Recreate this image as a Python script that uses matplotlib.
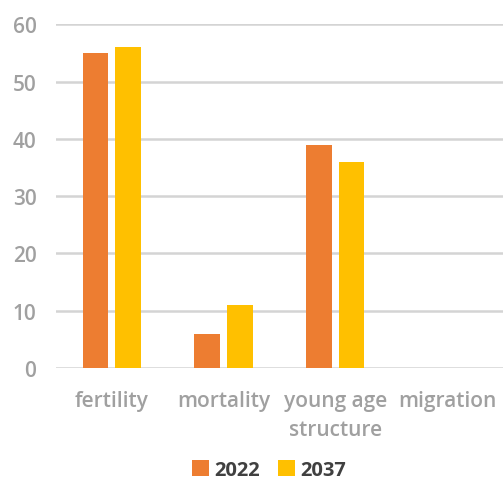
import numpy as np
import matplotlib.pyplot as plt

categories = ["fertility", "mortality", "young age\nstructure", "migration"]
values_2022 = [55, 6, 39, 0]
values_2037 = [56, 11, 36, 0]
series_labels = ["2022", "2037"]

orange = "#ED7D31"
gold = "#FFC000"
label_gray = "#A0A0A0"

plt.rcParams['font.family'] = ['Open Sans', 'DejaVu Sans']

fig = plt.figure(figsize=(5.03, 4.85), dpi=100)
ax = fig.add_axes([0.111, 0.239, 0.889, 0.709])

x = np.arange(len(categories))
width = 0.23
ax.bar(x - 0.145, values_2022, width, color=orange, label=series_labels[0], zorder=3)
ax.bar(x + 0.145, values_2037, width, color=gold, label=series_labels[1], zorder=3)

ax.set_xlim(-0.5, len(categories) - 0.5)
ax.set_ylim(0, 60)
ax.set_yticks(range(0, 61, 10))
ax.yaxis.grid(True, color="#D4D4D4", linewidth=1.8, zorder=0)
for s in ax.spines.values():
    s.set_visible(False)
ax.tick_params(axis='both', length=0, colors=label_gray, labelsize=15)
ax.tick_params(axis='x', pad=16)
ax.tick_params(axis='y', pad=14)
ax.set_xticks(x)
ax.set_xticklabels(categories, fontweight='semibold', linespacing=1.45)
for t in ax.get_yticklabels():
    t.set_fontweight('semibold')

leg = fig.legend(loc='lower center', bbox_to_anchor=(0.535, -0.03), ncol=2, frameon=False,
                 handlelength=0.85, handleheight=0.85, handletextpad=0.25, columnspacing=0.9,
                 prop={'weight': 'bold', 'size': 14.5})
for t in leg.get_texts():
    t.set_color("#404040")

fig.savefig("out.png", dpi=100)
